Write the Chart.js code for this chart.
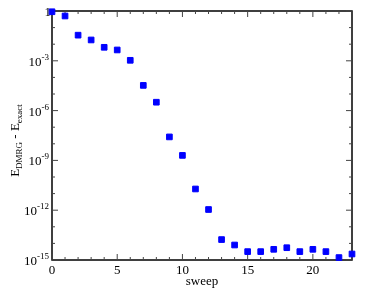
<!DOCTYPE html>
<html>
<head>
<meta charset="utf-8">
<script src="https://cdn.jsdelivr.net/npm/chart.js@4/dist/chart.umd.min.js"></script>
<style>
  html, body { margin: 0; padding: 0; background: #fff; }
  #wrap { width: 374px; height: 289px; }
</style>
</head>
<body>
<div id="wrap"><canvas id="err_chart"></canvas></div>
<script>
const sweep = [0, 1, 2, 3, 4, 5, 6, 7, 8, 9, 10, 11, 12, 13, 14, 15, 16, 17, 18, 19, 20, 21, 22, 23];
const err = [0.9, 0.5, 0.035, 0.018, 0.0065, 0.0045, 0.00107, 3.3e-5, 3.2e-6, 2.6e-8, 2e-9, 1.9e-11,
             1.1e-12, 1.7e-14, 8e-15, 3.2e-15, 3.2e-15, 4.4e-15, 5.5e-15, 3.2e-15, 4.4e-15, 3.2e-15,
             1.4e-15, 2.3e-15];
const xTicks = [0, 5, 10, 15, 20];
const yExp = [0, -3, -6, -9, -12, -15];

const serif = '"Liberation Serif", "DejaVu Serif", serif';

// frame, inward ticks, labels with superscripts and subscripts
const axesPlugin = {
    id: 'axesPlugin',
    beforeDatasetsDraw(chart) {
        const c = chart.ctx;
        const a = chart.chartArea;
        const xs = chart.scales.x, ys = chart.scales.y;
        c.save();
        c.strokeStyle = 'black';
        c.lineWidth = 1.5;
        c.strokeRect(a.left, a.top, a.right - a.left, a.bottom - a.top);

        c.lineWidth = 1;
        c.strokeStyle = '#444';
        for (let i = 0; i <= 23; i++) {
            const px = xs.getPixelForValue(i);
            const len = xTicks.includes(i) ? 6 : 3;
            c.beginPath();
            c.moveTo(px, a.bottom); c.lineTo(px, a.bottom - len);
            c.moveTo(px, a.top); c.lineTo(px, a.top + len);
            c.stroke();
        }
        for (let e = 0; e >= -15; e--) {
            const py = ys.getPixelForValue(Math.pow(10, e));
            const len = (e % 3 === 0) ? 6 : 3;
            c.beginPath();
            c.moveTo(a.left, py); c.lineTo(a.left + len, py);
            c.moveTo(a.right, py); c.lineTo(a.right - len, py);
            c.stroke();
        }

        c.fillStyle = 'black';
        c.textBaseline = 'alphabetic';
        c.textAlign = 'center';
        c.font = '13px ' + serif;
        xTicks.forEach(v => {
            c.fillText(String(v), xs.getPixelForValue(v), a.bottom + 14);
        });
        c.fillText('sweep', (a.left + a.right) / 2, a.bottom + 25);

        yExp.forEach(e => {
            const py = ys.getPixelForValue(Math.pow(10, e));
            if (e === 0) {
                c.textAlign = 'right';
                c.font = '13px ' + serif;
                c.fillText('1', a.left - 1, py + 5);
                return;
            }
            c.font = '9px ' + serif;
            const sup = String(e);
            const sw = c.measureText(sup).width;
            c.textAlign = 'left';
            const xr = a.left - 3;
            c.fillText(sup, xr - sw, py - 1);
            c.font = '13px ' + serif;
            const bw = c.measureText('10').width;
            c.fillText('10', xr - sw - bw, py + 5);
        });

        // rotated y title
        c.translate(19, (a.top + a.bottom) / 2 + 5);
        c.rotate(-Math.PI / 2);
        const parts = [['E', 13, 0], ['DMRG', 9, 3], [' - ', 13, 0], ['E', 13, 0], ['exact', 9, 3]];
        let total = 0;
        parts.forEach(p => { c.font = p[1] + 'px ' + serif; total += c.measureText(p[0]).width; });
        let x0 = -total / 2;
        c.textAlign = 'left';
        parts.forEach(p => {
            c.font = p[1] + 'px ' + serif;
            c.fillText(p[0], x0, p[2]);
            x0 += c.measureText(p[0]).width;
        });
        c.restore();
    }
};

const data = {
    datasets: [{
        label: 'error',
        data: sweep.map((s, i) => ({ x: s, y: err[i] })),
        backgroundColor: '#0000ff',
        borderColor: '#0000ff',
        pointStyle: 'rect',
        pointRadius: 4,
        showLine: false,
        clip: false
    }]
};

const config = {
    type: 'scatter',
    data: data,
    options: {
        responsive: true,
        maintainAspectRatio: false,
        animation: false,
        layout: { padding: { left: 52, right: 22, top: 11, bottom: 29 } },
        plugins: { legend: { display: false }, tooltip: { enabled: false } },
        scales: {
            x: { type: 'linear', min: 0, max: 23, display: false },
            y: { type: 'logarithmic', min: 1e-15, max: 1, display: false }
        }
    },
    plugins: [axesPlugin]
};
new Chart(document.getElementById('err_chart'), config);
</script>
</body>
</html>
